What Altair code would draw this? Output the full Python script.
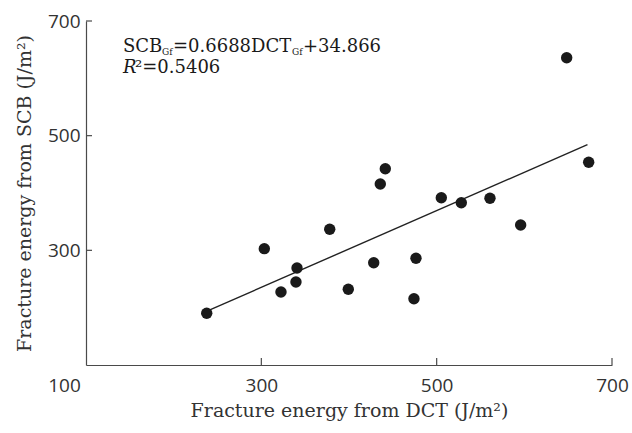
import altair as alt
import pandas as pd

# Data
dct = [237.7, 303.4, 322.4, 339.5, 340.7, 378.0, 399.2, 428.2, 435.7, 441.4,
       474.1, 476.4, 505.3, 528.1, 560.8, 595.8, 673.4, 648.3]
scb = [190.2, 302.9, 227.3, 244.8, 269.2, 336.7, 232.0, 278.4, 415.7, 442.4,
       215.6, 286.1, 391.8, 383.1, 390.8, 344.2, 453.6, 636.0]
slope = 0.6688
intercept = 34.866
fit_x = [238, 672]
x_tick_values = [100, 300, 500, 700]
y_tick_values = [300, 500, 700]
inner_ticks = [300, 500, 700]

W, H = 526, 344
AXIS_COLOR = "#4a4a4a"
TEXT_COLOR = "#333333"
SERIF = "DejaVu Serif"
SANS = "Open Sans"

points = pd.DataFrame({"dct": dct, "scb": scb})
fit = pd.DataFrame({"dct": fit_x, "scb": [slope * v + intercept for v in fit_x]})

xscale = alt.Scale(domain=[100, 700], nice=False, zero=False)
yscale = alt.Scale(domain=[100, 700], nice=False, zero=False)

xaxis = alt.Axis(
    values=x_tick_values, ticks=False, grid=False, tickSize=0,
    domainColor=AXIS_COLOR, domainWidth=1.2,
    labelFont=SANS, labelFontSize=19, labelColor=TEXT_COLOR,
    labelPadding=11, labelFlush=False,
    labelOffset={"expr": "datum.value == 100 ? -22 : 0"},
    title="Fracture energy from DCT (J/m²)", titleFont=SERIF,
    titleFontSize=19, titleFontWeight="normal", titleColor=TEXT_COLOR,
    titlePadding=6,
)
yaxis = alt.Axis(
    values=y_tick_values, ticks=False, grid=False, tickSize=0,
    domainColor=AXIS_COLOR, domainWidth=1.2,
    labelFont=SANS, labelFontSize=19, labelColor=TEXT_COLOR,
    labelPadding=6,
    title="Fracture energy from SCB (J/m²)", titleFont=SERIF,
    titleFontSize=19, titleFontWeight="normal", titleColor=TEXT_COLOR,
    titlePadding=13,
)

pts = alt.Chart(points).mark_circle(size=130, color="#1a1a1a", opacity=1).encode(
    x=alt.X("dct:Q", scale=xscale, axis=xaxis),
    y=alt.Y("scb:Q", scale=yscale, axis=yaxis),
)

line = alt.Chart(fit).mark_line(color="#222222", strokeWidth=1.4).encode(
    x=alt.X("dct:Q", scale=xscale),
    y=alt.Y("scb:Q", scale=yscale),
)

xt = alt.Chart(pd.DataFrame({"v": inner_ticks})).mark_rule(
    color=AXIS_COLOR, strokeWidth=1.2
).encode(x=alt.X("v:Q", scale=xscale), y=alt.value(H), y2=alt.value(H - 7))

yt = alt.Chart(pd.DataFrame({"v": inner_ticks})).mark_rule(
    color=AXIS_COLOR, strokeWidth=1.2
).encode(y=alt.Y("v:Q", scale=yscale), x=alt.value(0), x2=alt.value(6))


def label(text, x, y, size=18, style="normal"):
    return alt.Chart(pd.DataFrame({"t": [text]})).mark_text(
        align="left", baseline="alphabetic", font=SERIF, fontSize=size,
        fontStyle=style, color="#1a1a1a",
    ).encode(x=alt.value(x), y=alt.value(y), text="t:N")


# plot origin is at (86, 21) in the page
eq = [
    label("SCB", 37, 31),
    label("Gf", 76, 34, size=9),
    label("=0.6688DCT", 87, 31),
    label("Gf", 206, 34, size=9),
    label("+34.866", 217, 31),
    label("R", 37, 52, style="italic"),
    label("²=0.5406", 49, 52),
]

chart = alt.layer(line, pts, xt, yt, *eq).properties(
    width=W, height=H,
    autosize=alt.AutoSizeParams(type="none"),
    padding={"left": 86, "top": 21, "right": 20, "bottom": 68},
    background="white",
).configure_view(stroke=None)

chart.save("out.html", embed_options={"renderer": "svg", "actions": False})
